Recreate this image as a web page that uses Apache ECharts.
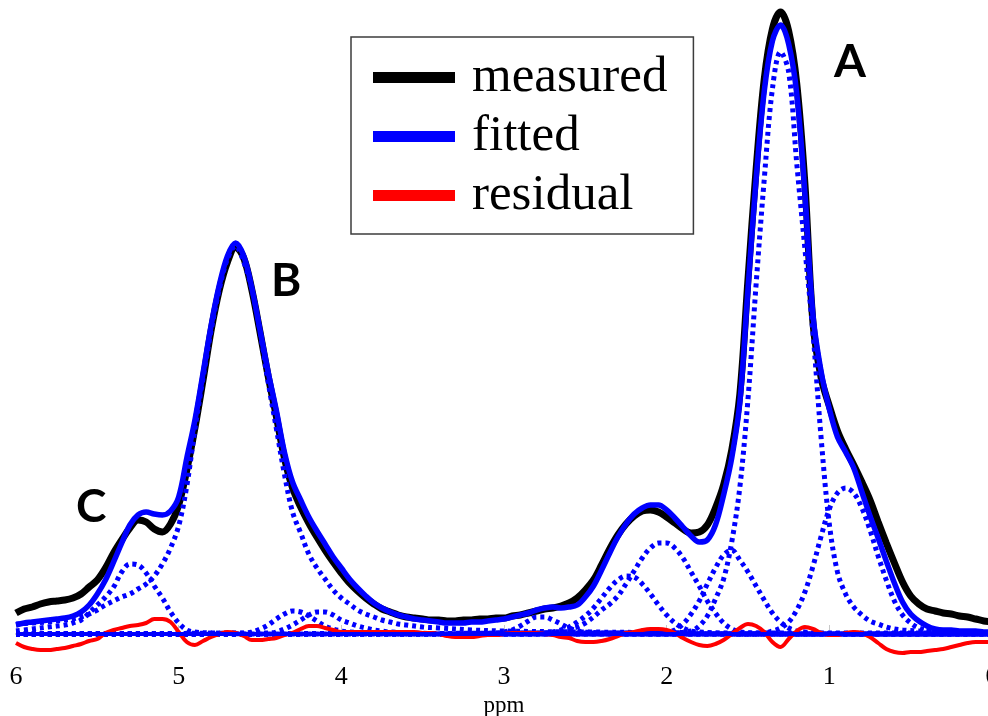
<!DOCTYPE html>
<html>
<head>
<meta charset="utf-8">
<script src="https://cdn.jsdelivr.net/npm/echarts@6/dist/echarts.min.js"></script>
<style>html,body{margin:0;padding:0;background:#fff;}#c{width:988px;height:716px;}</style>
</head>
<body>
<div id="c"></div>
<script>
// chemical shift grid (ppm), shared by measured / fitted / residual
var ppm = [6.00,5.95,5.90,5.85,5.80,5.75,5.70,5.65,5.60,5.55,5.50,5.45,5.40,5.35,5.30,5.25,5.20,5.15,5.10,5.05,
5.00,4.95,4.90,4.85,4.80,4.75,4.70,4.65,4.60,4.55,4.50,4.45,4.40,4.35,4.30,4.25,4.20,4.15,4.10,4.05,
4.00,3.95,3.90,3.85,3.80,3.75,3.70,3.65,3.60,3.55,3.50,3.45,3.40,3.35,3.30,3.25,3.20,3.15,3.10,3.05,
3.00,2.95,2.90,2.85,2.80,2.75,2.70,2.65,2.60,2.55,2.50,2.45,2.40,2.35,2.30,2.25,2.20,2.15,2.10,2.05,
2.00,1.95,1.90,1.85,1.80,1.75,1.70,1.65,1.60,1.55,1.50,1.45,1.40,1.35,1.30,1.25,1.20,1.15,1.10,1.05,
1.00,0.95,0.90,0.85,0.80,0.75,0.70,0.65,0.60,0.55,0.50,0.45,0.40,0.35,0.30,0.25,0.20,0.15,0.10,0.05,0.00];

var measured = [21,25,27,30,32,33,34,36,40,47,54,66,81,94,106,114,112,105,102,110,
129,164,206,254,304,344,372,387,376,344,302,258,218,176,146,127,111,97,84,72,
61,51,43,36,30,25,22,19,17,16,15,14,14,13,13,14,14,15,15,16,
16,18,19,21,23,25,26,28,31,36,44,54,69,85,99,110,118,123,124,122,
117,111,105,101,102,109,126,149,184,240,355,465,555,605,622,603,550,450,310,256,
228,203,185,169,152,134,112,91,71,52,38,30,25,23,21,20,18,17,15,13,12];

var fitted = [9,11,12,13,14,15,16,18,22,29,40,54,72,91,109,119,122,120,119,123,
137,176,214,261,309,349,378,391,378,346,304,262,224,182,152,134,117,103,90,77,
66,55,46,38,31,26,22,19,17,15,14,13,12,11,11,11,12,12,13,14,
15,17,19,21,24,26,27,26,27,29,37,48,64,81,97,110,120,126,129,129,
124,116,107,98,92,94,109,139,176,232,345,455,543,593,609,590,540,440,318,262,
225,197,182,166,142,118,96,73,51,32,20,13,8,5,4,4,3,3,3,2,2];

var residual = [-9,-13,-15,-16,-16,-15,-14,-12,-10,-7,-5,1,4,6,8,9,11,15,15,12,
2,-8,-11,-7,-3,0,2,1,-2,-6,-6,-5,-4,-1,1,5,8,8,6,4,
2,2,2,2,2,2,2,2,2,2,1,1,0,-2,-3,-3,-3,-2,-1,-1,
0,1,1,1,1,0,-1,-3,-4,-7,-8,-8,-7,-5,-2,1,2,4,5,5,
4,1,-4,-8,-11,-12,-10,-6,0,6,10,8,2,-8,-13,-5,3,7,5,1,
-1,-1,1,2,1,-3,-9,-15,-18,-19,-18,-18,-17,-16,-15,-13,-11,-9,-8,-8,-8];

// zero line
var baselinePpm = [6, 0];
var baselineVal = [0, 0];

// fitted components (dotted)
var compC_ppm = [6.00,5.90,5.80,5.70,5.65,5.60,5.55,5.50,5.45,5.40,5.35,5.30,5.25,5.20,5.15,5.10,5.05,5.00,4.95,4.90,4.80,4.50,3.00,0.00];
var compC_val = [3,5,7,9,11,14,21,29,37,47,62,70,69,61,48,36,22,11,4,2,1,0,0,0];

var compB_ppm = [6.00,5.90,5.80,5.75,5.70,5.65,5.60,5.55,5.50,5.45,5.40,5.35,5.30,5.25,5.20,5.15,5.10,5.05,5.00,4.95,4.90,4.85,4.80,4.75,4.70,4.65,4.60,4.55,4.50,4.45,4.40,4.35,4.30,4.25,4.20,4.15,4.10,4.05,4.00,3.95,3.90,3.85,3.80,3.75,3.70,3.65,3.60,3.50,3.40,3.20,3.00,2.50,1.50,0.00];
var compB_val = [10,11,12,13,14,15,17,20,24,29,33,37,40,45,50,58,70,86,108,148,205,256,304,345,375,388,372,345,303,252,206,160,122,101,80,66,55,44,36,30,24,20,17,14,12,10,9,7,6,4,3,2,1,1];

var compD1_ppm = [6.00,4.60,4.55,4.50,4.45,4.40,4.35,4.30,4.25,4.20,4.15,4.10,4.05,4.00,3.95,3.85,3.60,0.00];
var compD1_val = [0,1,2,5,9,15,20,23,22,18,13,8,5,3,2,1,0,0];

var compD2_ppm = [6.00,4.45,4.40,4.35,4.30,4.25,4.20,4.15,4.10,4.05,4.00,3.95,3.90,3.85,3.80,3.75,3.70,3.55,3.30,0.00];
var compD2_val = [0,1,2,5,9,14,19,22,22,19,14,11,8,6,4,3,2,1,0,0];

var compE_ppm = [6.00,3.20,3.05,3.00,2.95,2.90,2.85,2.80,2.75,2.70,2.65,2.60,2.55,2.50,2.40,2.20,0.00];
var compE_val = [0,0,1,2,4,8,13,17,17,14,10,6,3,2,1,0,0];

var compF_ppm = [6.00,2.85,2.75,2.70,2.65,2.60,2.55,2.50,2.45,2.40,2.35,2.30,2.25,2.20,2.15,2.10,2.05,2.00,1.95,1.90,1.85,1.80,1.70,1.50,0.00];
var compF_val = [0,0,1,2,4,7,12,18,26,36,46,54,58,57,50,40,29,19,11,6,3,2,1,0,0];

var compG_ppm = [6.00,2.75,2.65,2.60,2.55,2.50,2.45,2.40,2.35,2.30,2.25,2.20,2.15,2.10,2.05,2.00,1.95,1.90,1.85,1.80,1.75,1.70,1.65,1.60,1.55,1.45,1.20,0.00];
var compG_val = [0,1,3,5,7,11,17,24,30,38,50,63,76,86,91,91,86,76,62,48,33,21,11,5,2,1,0,0];

var compH_ppm = [6.00,2.10,2.00,1.95,1.90,1.85,1.80,1.75,1.70,1.65,1.60,1.55,1.50,1.45,1.40,1.35,1.30,1.25,1.20,1.15,1.10,0.90,0.00];
var compH_val = [0,1,2,4,10,20,33,50,66,79,84,74,62,48,34,21,12,6,3,2,1,0,0];

var compA_ppm = [6.00,2.00,1.85,1.80,1.75,1.70,1.65,1.60,1.55,1.50,1.45,1.40,1.35,1.30,1.25,1.20,1.15,1.10,1.05,1.00,0.95,0.90,0.85,0.80,0.75,0.70,0.65,0.60,0.55,0.45,0.30,0.00];
var compA_val = [0,1,3,8,18,35,55,92,147,235,350,455,545,582,562,470,385,300,195,110,62,40,27,19,13,10,7,5,4,3,2,1];

var compI_ppm = [6.00,1.50,1.40,1.35,1.30,1.25,1.20,1.15,1.10,1.05,1.00,0.95,0.90,0.85,0.80,0.75,0.70,0.65,0.60,0.55,0.50,0.45,0.40,0.35,0.25,0.00];
var compI_val = [0,0,1,3,6,12,24,42,68,98,125,141,146,141,126,104,78,54,33,19,11,6,4,3,2,1];

var xTicks = [0,1,2,3,4,5,6];
var seriesNames = ['measured','fitted','residual'];
var peakLabels = ['A','B','C'];

function pairs(xs, ys){ return xs.map(function(x,i){ return [x, ys[i]]; }); }

var comps = [
  [compC_ppm, compC_val],[compB_ppm, compB_val],[compD1_ppm, compD1_val],[compD2_ppm, compD2_val],
  [compE_ppm, compE_val],[compF_ppm, compF_val],[compG_ppm, compG_val],[compH_ppm, compH_val],
  [compA_ppm, compA_val],[compI_ppm, compI_val]
];

var SM = 0.35;
var series = [
  {name:'measured', type:'line', data:pairs(ppm, measured), showSymbol:false, smooth:SM,
   lineStyle:{color:'#000', width:7}, itemStyle:{color:'#000'}, z:2},
  {name:'fitted', type:'line', data:pairs(ppm, fitted), showSymbol:false, smooth:SM,
   lineStyle:{color:'#0000ff', width:5.5}, itemStyle:{color:'#0000ff'}, z:3}
];
comps.forEach(function(c, i){
  series.push({name:'comp'+i, type:'line', data:pairs(c[0], c[1]), showSymbol:false, smooth:SM,
    lineStyle:{color:'#0000ff', width:5, type:[4,4], cap:'butt'}, z:4, silent:true});
});
series.push({name:'residual', type:'line', data:pairs(ppm, residual), showSymbol:false, smooth:SM,
  lineStyle:{color:'#ff0000', width:4}, itemStyle:{color:'#ff0000'}, z:5});
series.push({name:'zero', type:'line', data:pairs(baselinePpm, baselineVal), showSymbol:false,
  lineStyle:{color:'#0000ff', width:4}, z:6, silent:true});

var chart = echarts.init(document.getElementById('c'));
chart.setOption({
  animation:false,
  backgroundColor:'#fff',
  grid:{left:16, width:976, top:0, bottom:54, containLabel:false, outerBoundsMode:'none'},
  xAxis:{type:'value', min:0, max:6, interval:1, inverse:true,
    axisLine:{show:true, lineStyle:{color:'#9a9a9a', width:1.5}},
    axisTick:{show:true, inside:true, length:9, lineStyle:{color:'#c8c8c8', width:1}},
    axisLabel:{fontFamily:'Liberation Serif', fontSize:26, color:'#000', margin:2,
      formatter:function(v){ return xTicks.indexOf(v) >= 0 ? String(v) : ''; }},
    splitLine:{show:false},
    name:'ppm', nameLocation:'middle', nameGap:27,
    nameTextStyle:{fontFamily:'Liberation Serif', fontSize:23, color:'#000'}},
  yAxis:{type:'value', min:-28, max:634, show:false},
  legend:{
    data:[
      {name:seriesNames[0], icon:'rect', itemStyle:{color:'#000'}},
      {name:seriesNames[1], icon:'rect', itemStyle:{color:'#0000ff'}},
      {name:seriesNames[2], icon:'rect', itemStyle:{color:'#ff0000'}}
    ],
    orient:'vertical', left:351, top:37,
    padding:[15, 26, 13, 22],
    itemWidth:82, itemHeight:11, itemGap:8,
    textStyle:{fontFamily:'Liberation Serif', fontSize:51, color:'#000', lineHeight:50, padding:[0,0,0,12]},
    borderColor:'#3c3c3c', borderWidth:1.5, backgroundColor:'#fff',
    selectedMode:false
  },
  graphic:[
    {type:'text', left:834, top:39, style:{text:peakLabels[0], font:'bold 46px Lato', fill:'#000'}},
    {type:'text', left:271, top:258, style:{text:peakLabels[1], font:'bold 46px Lato', fill:'#000'}},
    {type:'text', left:76, top:484, style:{text:peakLabels[2], font:'bold 46px Lato', fill:'#000'}}
  ],
  series:series
});
</script>
</body>
</html>
